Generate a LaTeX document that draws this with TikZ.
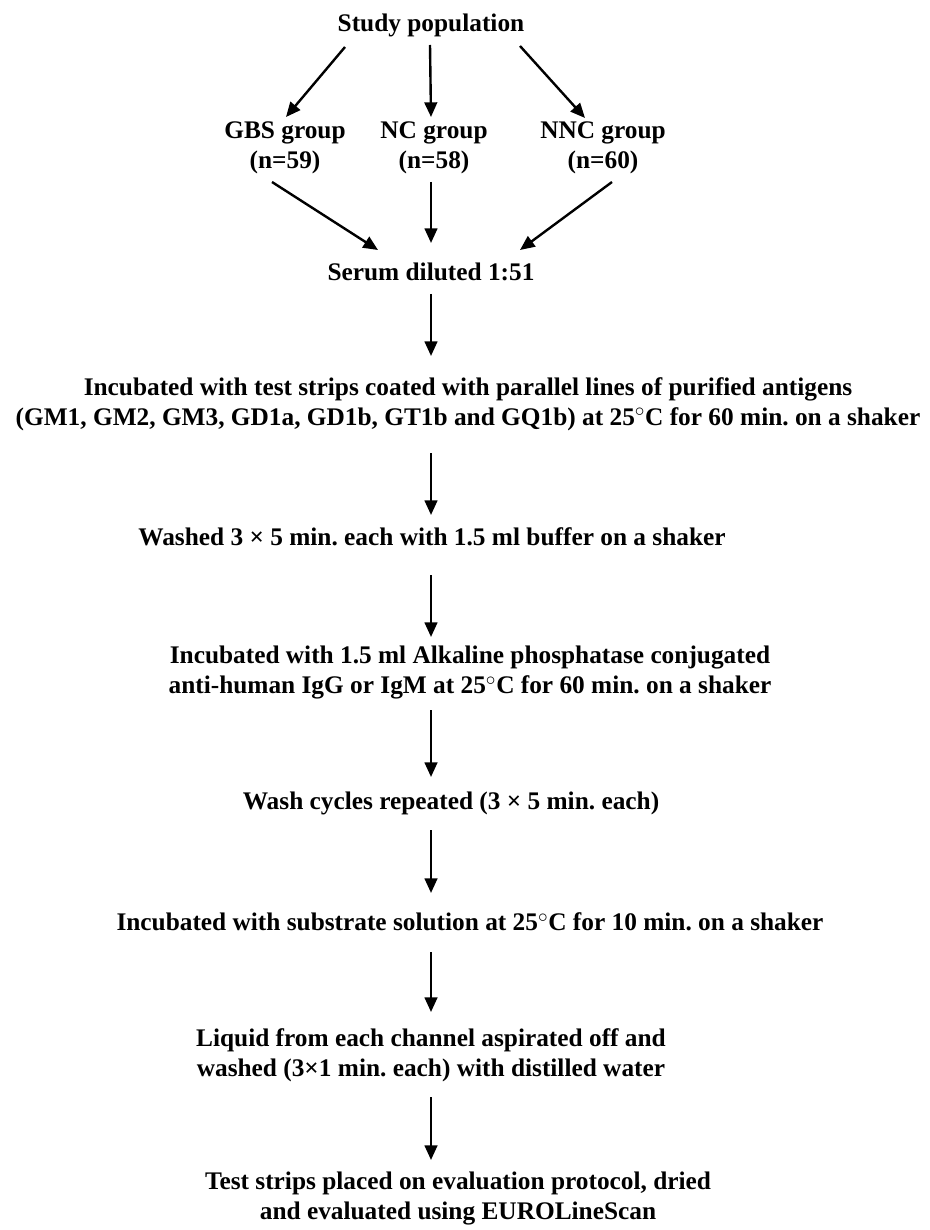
\documentclass[tikz,border=0pt]{standalone}
\usepackage{fontspec}
\setmainfont{Liberation Serif}
\usetikzlibrary{arrows.meta}
\usetikzlibrary{calc}

\begin{document}
\frenchspacing
\begin{tikzpicture}[x=0.75pt, y=-0.75pt,
stepbox/.style={font=\fontsize{19}{22.5}\selectfont\bfseries, align=center, inner sep=0pt},
flow/.style={>={Triangle[length=11pt,width=9.5pt]},->, line width=1.8pt},
]

\useasboundingbox (0,0) rectangle (930,1230);

% TOP: population and groups
\node[stepbox] (study) at (431,25) {Study population};
\node[stepbox] (gbs) at (285,148) {GBS group\\(n=59)};
\node[stepbox] (nc)  at (434,148) {NC group\\(n=58)};
\node[stepbox] (nnc) at (603,148) {NNC group\\(n=60)};
\node[stepbox] (serum) at (431,272) {Serum diluted 1:51};

\draw[flow] ($(study.center)+(-86,22)$) -- ($(gbs.center)+(1,-31)$);
\draw[flow] ($(study.center)+(-1,20)$) -- ($(nc.center)+(-3,-31)$);
\draw[flow] ($(study.center)+(89,21)$) -- ($(nnc.center)+(-18,-30)$);

\draw[flow] ($(gbs.center)+(-13,34)$) -- ($(serum.center)+(-53,-22)$);
\draw[flow] ($(nc.center)+(-3,34)$) -- ($(serum.center)+(0,-29)$);
\draw[flow] ($(nnc.center)+(9,34)$) -- ($(serum.center)+(89,-22)$);

% PROTOCOL STEPS
\node[stepbox] (incub) at (468,404) {Incubated with test strips coated with parallel lines of purified antigens\\(GM1, GM2, GM3, GD1a, GD1b, GT1b and GQ1b) at 25$^\circ$C for 60 min. on a shaker};
\node[stepbox] (wash) at (432,537) {Washed 3 × 5 min. each with 1.5 ml buffer on a shaker};
\node[stepbox] (conj) at (470,673) {Incubated with 1.5 ml Alkaline phosphatase conjugated\\anti-human IgG or IgM at 25$^\circ$C for 60 min. on a shaker};
\node[stepbox] (rewash) at (451,803) {Wash cycles repeated (3 × 5 min. each)};
\node[stepbox] (subst) at (470,922) {Incubated with substrate solution at 25$^\circ$C for 10 min. on a shaker};
\node[stepbox] (liquid) at (431,1055) {Liquid from each channel aspirated off and\\washed (3×1 min. each) with distilled water};
\node[stepbox] (eval) at (458,1198) {Test strips placed on evaluation protocol, dried\\and evaluated using EUROLineScan};

% vertical arrows on one spine
\coordinate (spine) at (431,0);
\foreach \a/\b/\s/\e in {serum/incub/22/-48, incub/wash/49/-22, wash/conj/38/-36, conj/rewash/37/-26,
    rewash/subst/27/-29, subst/liquid/30/-43, liquid/eval/42/-38}{
    \draw[flow] ($(spine |- \a.center)+(0,\s)$) -- ($(spine |- \b.center)+(0,\e)$);
}

\end{tikzpicture}
\end{document}
